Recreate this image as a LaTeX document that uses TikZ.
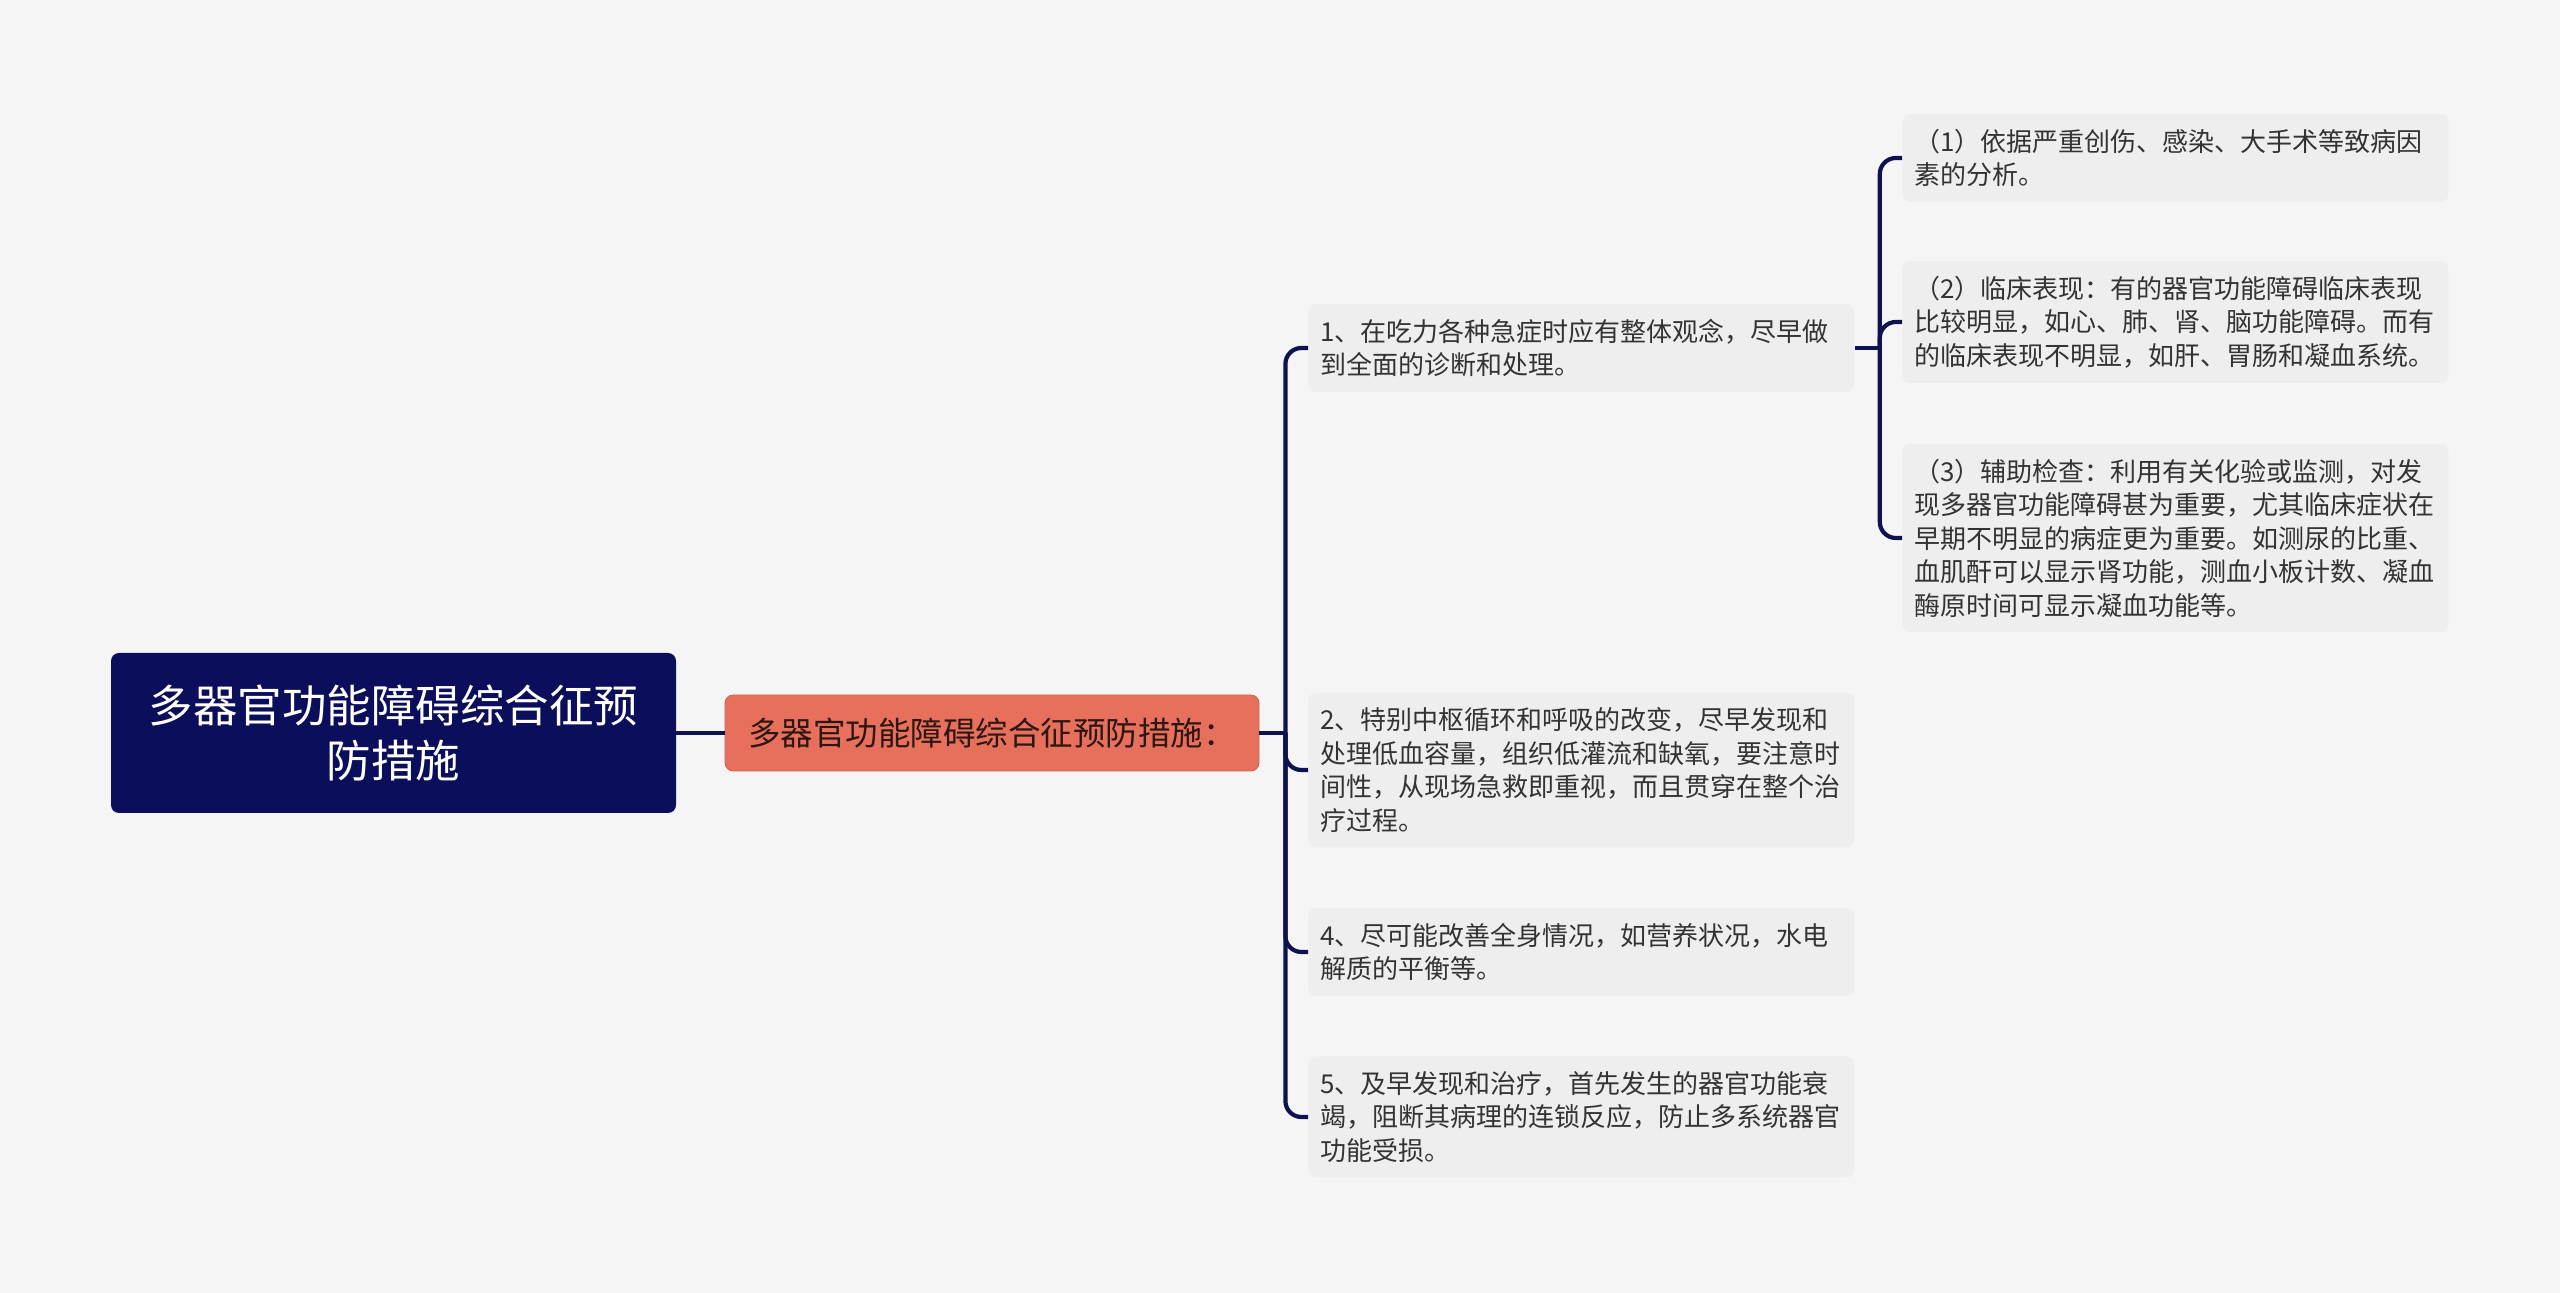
\documentclass[tikz,border=0pt]{standalone}
\usepackage{fontspec}
\setmainfont{Noto Sans CJK SC}
\definecolor{bgcol}{HTML}{F5F5F5}
\definecolor{rootcol}{HTML}{0B0E5B}
\definecolor{subcol}{HTML}{E6705B}
\definecolor{itemcol}{HTML}{EEEEEE}
\definecolor{linecol}{HTML}{0E1250}
\definecolor{txtcol}{HTML}{333333}
\begin{document}
\begin{tikzpicture}[
  x=0.5pt, y=-0.5pt,
  rootbox/.style={fill=rootcol, rounded corners=4pt, text=white, align=center,
    minimum width=282.5pt, minimum height=80pt, inner sep=0pt,
    font=\fontsize{22.25pt}{27.5pt}\selectfont},
  subbox/.style={fill=subcol, draw=subcol!90!black, line width=0.4pt,
    rounded corners=4pt, text=black!80!subcol, align=center,
    minimum width=267pt, minimum height=38pt, inner sep=0pt,
    font=\fontsize{16.25pt}{20pt}\selectfont},
  itembox/.style={fill=itemcol, rounded corners=4pt, text=txtcol, align=left,
    anchor=west, text width=261pt, inner xsep=6pt, inner ysep=7.5pt,
    font=\fontsize{13pt}{16.75pt}\selectfont},
  link/.style={draw=linecol, line width=2.1pt, rounded corners=8pt},
  ]
  % 背景
  \fill[bgcol] (0,0) rectangle (2560,1293);
  \useasboundingbox (0,0) rectangle (2560,1293);

  % 中心主题和二级主题
  \node[rootbox] (root) at (393.5,733) {多器官功能障碍综合征预\\防措施};
  \node[subbox] (sub) at (992,733) {多器官功能障碍综合征预防措施：};
  \draw[link] (root.east) -- (sub.west);
  % 分支汇合点
  \path (sub.east) ++(26,0) coordinate (hub);
  \draw[link] (sub.east) -- (hub);

  % 三级主题
  % \nm---节点名 \yy---纵坐标 \txt---内容
  \foreach \nm/\yy/\txt in {
    n1/348/{1、在吃力各种急症时应有整体观念，尽早做\\到全面的诊断和处理。},
    n2/770/{2、特别中枢循环和呼吸的改变，尽早发现和\\处理低血容量，组织低灌流和缺氧，要注意时\\间性，从现场急救即重视，而且贯穿在整个治\\疗过程。},
    n4/952/{4、尽可能改善全身情况，如营养状况，水电\\解质的平衡等。},
    n5/1117/{5、及早发现和治疗，首先发生的器官功能衰\\竭，阻断其病理的连锁反应，防止多系统器官\\功能受损。}}
  {
    \node[itembox] (\nm) at (1308,\yy) {\txt};
    \draw[link] (hub) |- (\nm.west);
  }

  % 第1条的下级主题
  \path (n1.east) ++(25,0) coordinate (hub1);
  \draw[link] (n1.east) -- (hub1);
  \foreach \nm/\yy/\txt in {
    m1/158/{（1）依据严重创伤、感染、大手术等致病因\\素的分析。},
    m2/322/{（2）临床表现：有的器官功能障碍临床表现\\比较明显，如心、肺、肾、脑功能障碍。而有\\的临床表现不明显，如肝、胃肠和凝血系统。},
    m3/538/{（3）辅助检查：利用有关化验或监测，对发\\现多器官功能障碍甚为重要，尤其临床症状在\\早期不明显的病症更为重要。如测尿的比重、\\血肌酐可以显示肾功能，测血小板计数、凝血\\酶原时间可显示凝血功能等。}}
  {
    \node[itembox] (\nm) at (1902,\yy) {\txt};
    \draw[link] (hub1) |- (\nm.west);
  }
\end{tikzpicture}
\end{document}
